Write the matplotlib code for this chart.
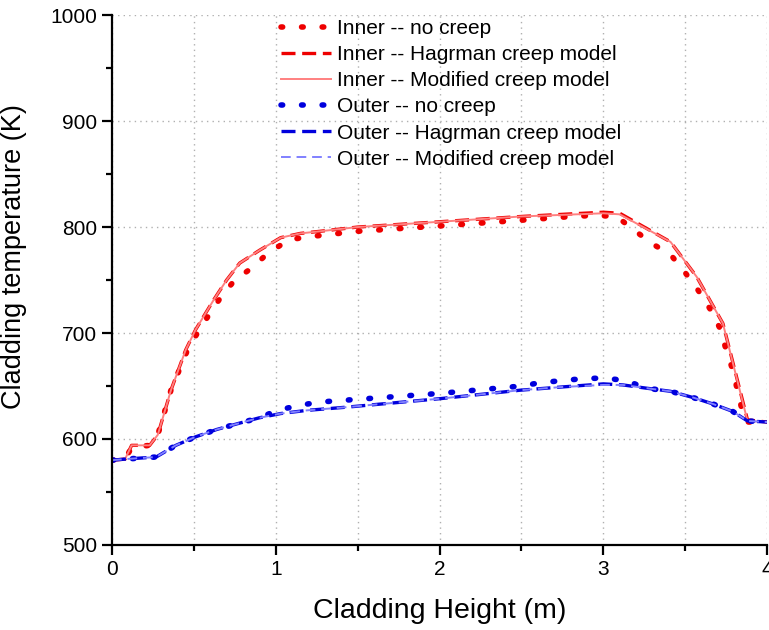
import matplotlib
matplotlib.use("Agg")
import matplotlib.pyplot as plt
from matplotlib.ticker import MultipleLocator

plt.rcParams['font.family'] = ['Liberation Sans', 'DejaVu Sans']

# inner cladding, with creep models (Hagrman ~ Modified)
x_in = [0.0, 0.08, 0.12, 0.23, 0.28, 0.36, 0.45, 0.51, 0.62, 0.70, 0.78, 0.90, 1.03,
        1.15, 1.27, 1.5, 2.0, 2.5, 3.0, 3.10, 3.41, 3.57, 3.73, 3.88, 4.0]
t_in_hag = [580, 581, 594, 594, 604, 646, 684, 703, 731, 750, 766, 778, 790,
            794, 796, 800, 805, 810, 814, 813, 786, 753, 709, 618, 616]
t_in_mod = [580, 581, 594, 594, 604, 646, 684, 703, 731, 750, 766, 778, 790,
            794, 796, 800, 805, 810, 813, 812, 786, 753, 709, 617, 616]

# inner cladding, no creep
x_in_nc = [0.0, 0.08, 0.12, 0.23, 0.28, 0.36, 0.456, 0.525, 0.60, 0.67, 0.75, 0.85, 0.95,
           1.08, 1.21, 1.5, 2.0, 2.55, 2.81, 2.95, 3.08, 3.19, 3.29, 3.41, 3.49, 3.58,
           3.65, 3.71, 3.75, 3.79, 3.82, 3.85, 3.87, 4.0]
t_in_nc = [580, 581, 592, 594, 604, 646, 682, 701, 719, 735, 750, 761, 775,
           788, 791, 796, 801, 807, 810, 811, 810, 797, 785, 774, 759, 740,
           723, 705, 684, 665, 645, 625, 616, 616]

# outer cladding, with creep models
x_out = [0.0, 0.08, 0.27, 0.39, 0.51, 0.64, 0.78, 0.90, 1.03, 1.19, 1.43, 2.0, 2.49,
         2.74, 3.0, 3.12, 3.26, 3.41, 3.55, 3.67, 3.79, 3.88, 4.0]
t_out_hag = [580, 581, 583, 594, 602, 609, 615, 620, 624, 627, 630, 638, 646,
             649, 652, 651, 648, 645, 639, 633, 626, 617, 616]
t_out_mod = [580, 581, 583, 594, 602, 609, 615, 620, 624, 627, 630, 638, 646,
             649, 651, 651, 648, 645, 639, 633, 626, 617, 616]

# outer cladding, no creep
x_out_nc = [0.0, 0.08, 0.27, 0.39, 0.51, 0.64, 0.78, 0.90, 1.01, 1.15, 1.28, 2.0, 2.5,
            2.61, 2.74, 2.88, 3.01, 3.14, 3.26, 3.41, 3.55, 3.67, 3.79, 3.88, 4.0]
t_out_nc = [580, 581, 583, 594, 602, 609, 615, 620, 627, 632, 635, 643, 650,
            653, 655, 657, 657.5, 655, 648, 645, 639, 633, 626, 617, 616]

dots = (0, (0.3, 3.4))
dashes = (0, (4.2, 2.0))

fig = plt.figure(figsize=(7.69, 6.3), dpi=100)
ax = fig.add_axes([0.1456, 0.135, 0.852, 0.841])

ax.plot(x_in_nc, t_in_nc, color='#ee0000', lw=4.0, linestyle=dots,
        dash_capstyle='round', label='Inner -- no creep')
ax.plot(x_in, t_in_hag, color='#ee0000', lw=2.4, linestyle=dashes,
        label='Inner -- Hagrman creep model')
ax.plot(x_in, t_in_mod, color='#ff8080', lw=1.4, label='Inner -- Modified creep model')
ax.plot(x_out_nc, t_out_nc, color='#0000dd', lw=4.0, linestyle=dots,
        dash_capstyle='round', label='Outer -- no creep')
ax.plot(x_out, t_out_hag, color='#0000dd', lw=2.4, linestyle=dashes,
        label='Outer -- Hagrman creep model')
ax.plot(x_out, t_out_mod, color='#8080ff', lw=1.4, linestyle=(0, (5, 3)),
        label='Outer -- Modified creep model')

ax.set_xlim(0, 4)
ax.set_ylim(500, 1000)
ax.xaxis.set_major_locator(MultipleLocator(1))
ax.xaxis.set_minor_locator(MultipleLocator(0.5))
ax.yaxis.set_major_locator(MultipleLocator(100))
ax.yaxis.set_minor_locator(MultipleLocator(50))

ax.grid(True, which='major', color='#b0b0b0', linestyle=(0, (1, 3)), lw=1)
ax.grid(True, which='minor', axis='x', color='#b0b0b0', linestyle=(0, (1, 3)), lw=1)
ax.set_axisbelow(True)

for s in ['top', 'right']:
    ax.spines[s].set_visible(False)
for s in ['left', 'bottom']:
    ax.spines[s].set_linewidth(1.6)

ax.tick_params(which='major', direction='out', length=7, width=1.6, labelsize=15)
ax.tick_params(which='minor', direction='out', length=4.5, width=1.6)

ax.set_xlabel('Cladding Height (m)', fontsize=20.5, labelpad=14)
ax.set_ylabel('Cladding temperature (K)', fontsize=19.5)
ax.yaxis.set_label_coords(-0.13, 0.545)

ax.legend(loc='upper left', bbox_to_anchor=(0.245, 1.008), frameon=False,
          fontsize=15, handlelength=2.4, handletextpad=0.3, labelspacing=0.34,
          borderaxespad=0)

fig.savefig('out.png', dpi=100)
